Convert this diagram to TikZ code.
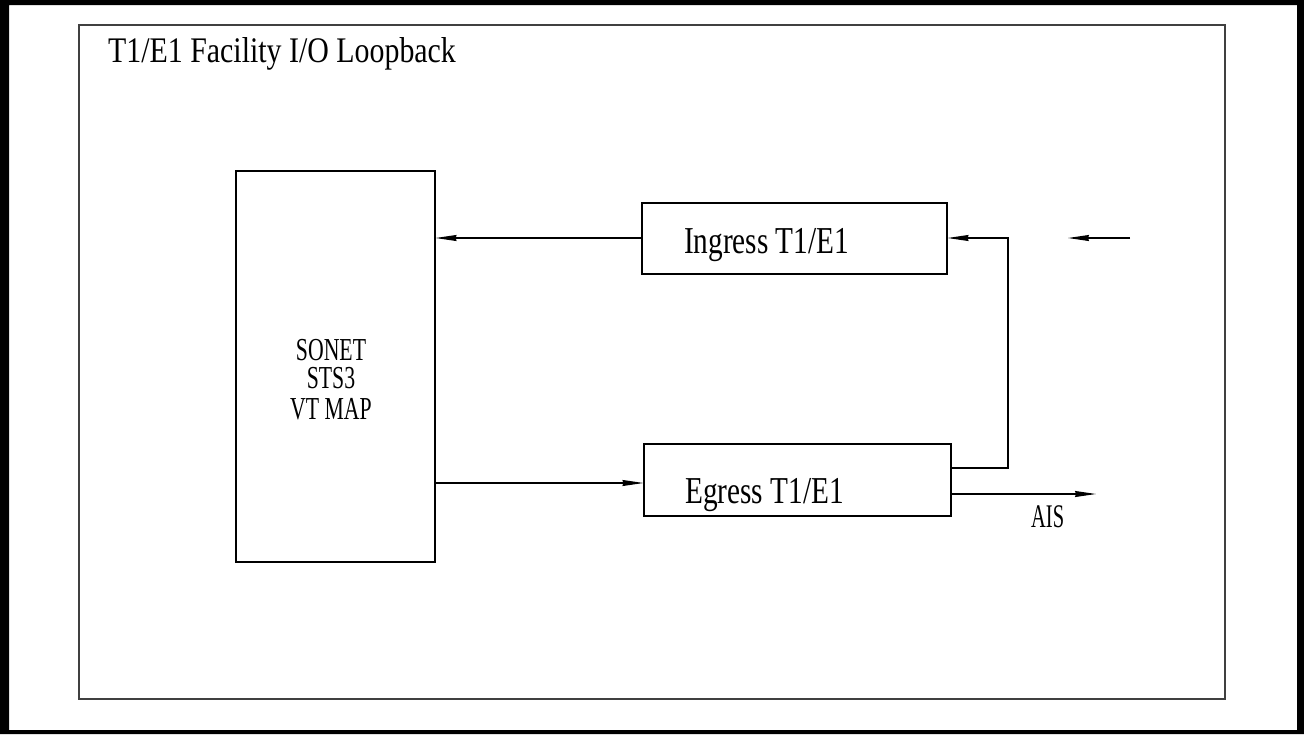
\documentclass[tikz,border=0pt]{standalone}
\usepackage{fontspec}
\usetikzlibrary{arrows.meta}
\newfontfamily\condtitle[FakeStretch=0.83]{Liberation Serif}
\newfontfamily\condbox[FakeStretch=0.77]{Liberation Serif}
\newfontfamily\condmap[FakeStretch=0.68]{Liberation Serif}
\newfontfamily\condais[FakeStretch=0.62]{Liberation Serif}
\tikzset{
  x=1pt, y=-1pt,
  blk/.style={draw=black, line width=1.1pt, rectangle, inner sep=0pt},
  arr/.style={draw=black, line width=1.1pt, -{Stealth[length=21pt,width=6pt,inset=1pt]}},
  txt/.style={inner sep=0pt},
}
\begin{document}
\begin{tikzpicture}
\useasboundingbox (0,0) rectangle (1304,734);
% outer thick frame
\fill[black, even odd rule] (0,0) rectangle (1304,734) (9,5) rectangle (1297,730);
% inner frame
\draw[black!75, line width=1.5pt] (79,25) rectangle (1225,699);
\node[txt, anchor=base west, font=\condtitle\fontsize{36}{36}\selectfont] (title) at (108,62) {T1/E1 Facility I/O Loopback};

% blocks
\node[blk, minimum width=199pt, minimum height=391pt] (sonet) at (335.5,366.5) {};
\node[blk, minimum width=305pt, minimum height=71pt] (ing) at (794.5,238.5) {};
\node[blk, minimum width=307pt, minimum height=72pt] (eg) at (797.5,480) {};

\node[txt, align=center, anchor=center, font=\condmap\fontsize{32}{28}\selectfont] (maptxt) at (331,380) {SONET\\STS3\\[3pt]VT MAP};
\node[txt, anchor=base west, font=\condbox\fontsize{38}{38}\selectfont] (ingt) at (684,253) {Ingress T1/E1};
\node[txt, anchor=base west, font=\condbox\fontsize{38}{38}\selectfont] (egt) at (685,503) {Egress T1/E1};

% coordinates
\coordinate (ingy) at (0,238);
\coordinate (egy) at (0,483);
\coordinate (loopb) at (1008,468);
\coordinate (loopt) at (1008,238);
\coordinate (ins) at (1130,238);
\coordinate (ine) at (1068,238);
\coordinate (aisend) at (1096,494);

% connectors
\draw[arr] (ing.west |- ingy) -- (sonet.east |- ingy);
\draw[arr] (sonet.east |- egy) -- (eg.west |- egy);
\draw[arr] (eg.east |- loopb) -- (loopb) -- (loopt) -- (ing.east |- loopt);
\draw[arr] (ins) -- (ine);
\draw[arr] (eg.east |- aisend) -- (aisend);
\node[txt, anchor=base west, font=\condais\fontsize{33}{33}\selectfont] (ais) at (1031,527) {AIS};
\end{tikzpicture}
\end{document}
